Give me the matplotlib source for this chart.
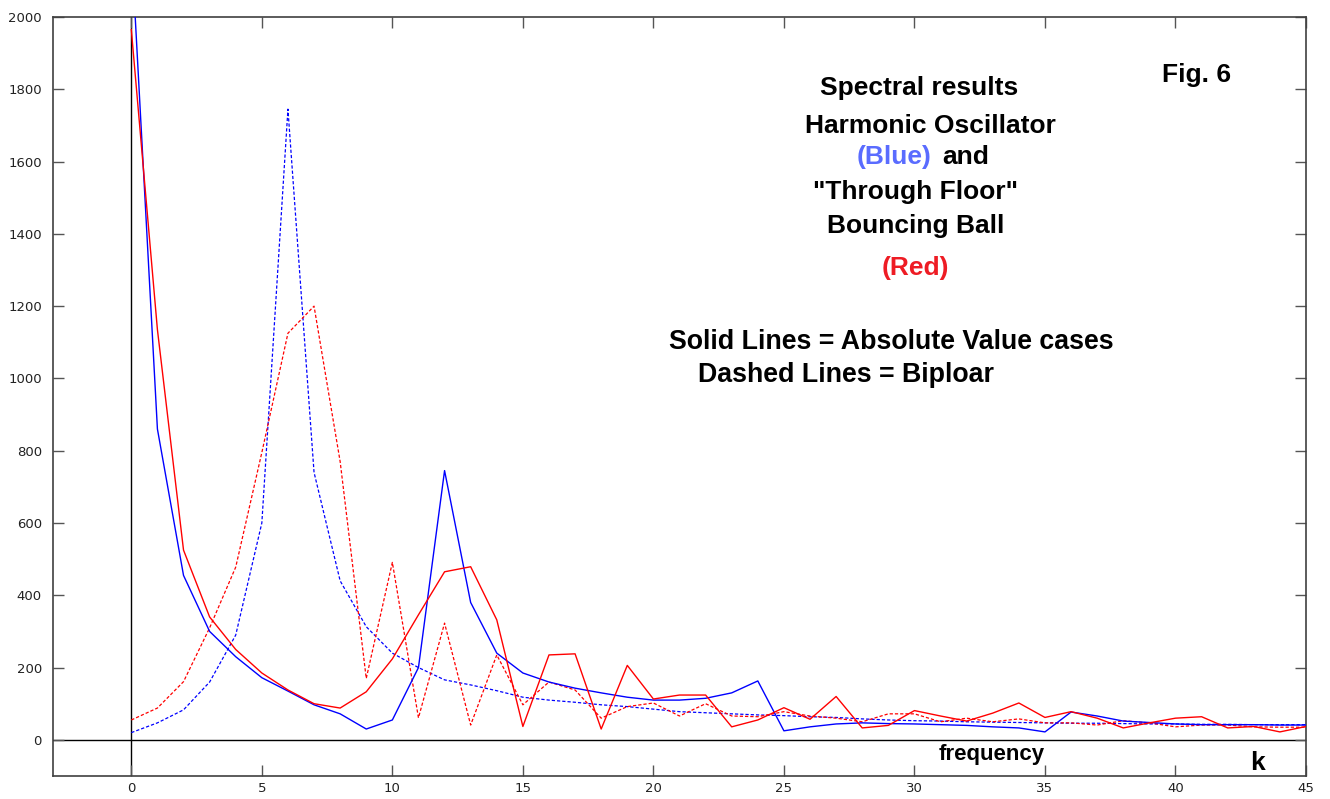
import matplotlib
matplotlib.use('Agg')
import matplotlib.pyplot as plt
import numpy as np

# frequency index k = 0..45
k = np.arange(46)

# Harmonic oscillator, absolute value case (solid blue)
blue_abs = [2200, 860, 455, 300, 230, 172, 135, 97, 72, 30, 55, 200, 745, 380, 240, 185,
            160, 143, 130, 118, 110, 110, 115, 130, 163, 25, 36, 44, 47, 45,
            44, 42, 40, 36, 33, 22, 77, 66, 52, 48, 44, 42, 42, 42, 41, 41]

# Bouncing ball, absolute value case (solid red)
red_abs = [1965, 1135, 525, 340, 250, 185, 138, 100, 88, 133, 224, 346, 465, 479, 332, 37,
           235, 238, 30, 206, 113, 124, 124, 36, 55, 89, 57, 120, 33, 40,
           81, 66, 52, 74, 102, 62, 78, 60, 33, 47, 60, 64, 33, 37, 22, 37]

# Harmonic oscillator, bipolar case (dashed blue)
blue_bip = [20, 47, 83, 160, 290, 600, 1745, 740, 440, 313, 240, 200, 166, 152, 136, 118,
            110, 104, 97, 92, 85, 78, 75, 72, 69, 67, 64, 62, 58, 55,
            53, 52, 50, 49, 48, 47, 46, 46, 45, 44, 44, 43, 43, 42, 42, 42]

# Bouncing ball, bipolar case (dashed red)
red_bip = [55, 88, 161, 310, 478, 795, 1125, 1200, 770, 170, 491, 61, 323, 41, 235, 97,
           160, 138, 60, 92, 102, 66, 100, 66, 64, 78, 66, 60, 50, 72,
           72, 50, 60, 50, 58, 47, 47, 41, 53, 47, 36, 41, 41, 36, 35, 35]

xticks = list(range(0, 46, 5))
yticks = list(range(0, 2001, 200))

W, H = 1330, 799
fig = plt.figure(figsize=(W / 100, H / 100), dpi=100)
ax = fig.add_axes([53 / W, 1 - 776 / H, (1306 - 53) / W, (776 - 17) / H])

# reference axes through the origin
ax.axvline(0, color='black', lw=1.0, zorder=1)
ax.axhline(0, color='black', lw=1.0, zorder=1)

dash = (2.6, 1.6)
ax.plot(k, blue_bip, color='#0000ff', lw=0.9, dashes=dash, zorder=2)
ax.plot(k, red_bip, color='#ff0000', lw=0.9, dashes=dash, zorder=2)
ax.plot(k, blue_abs, color='#0000ff', lw=1.0, zorder=3)
ax.plot(k, red_abs, color='#ff0000', lw=1.0, zorder=3)

ax.set_xlim(-3, 45)
ax.set_ylim(-100, 2000)
ax.set_xticks(xticks)
ax.set_yticks(yticks)
ax.tick_params(direction='in', top=True, right=True, length=8, width=1.0,
               color='#555555', labelsize=9.5, labelcolor='#222222')
ax.tick_params(axis='x', pad=4)
ax.tick_params(axis='y', pad=8)
for s in ax.spines.values():
    s.set_color('#404040')
    s.set_linewidth(1.2)

font = dict(family='Liberation Sans', weight='bold')


def label(px, py, txt, size=19, color='black', ha='center'):
    fig.text(px / W, 1 - py / H, txt, ha=ha, va='baseline', fontsize=size, color=color, **font)


label(1197, 82, 'Fig. 6')
label(919, 95, 'Spectral results')
label(930, 133, 'Harmonic Oscillator')
label(857, 164, '(Blue)', color='#5a6cff', ha='left')
label(942, 164, 'and', ha='left')
label(915, 199, '"Through Floor"')
label(916, 233, 'Bouncing Ball')
label(915, 275, '(Red)', color='#ee1c24')
label(891, 349, 'Solid Lines = Absolute Value cases', size=19.3)
label(846, 382, 'Dashed Lines = Biploar', size=19.3)
label(992, 760, 'frequency', size=16)
label(1258, 770, 'k', size=19)

fig.savefig('out.png', dpi=100)
